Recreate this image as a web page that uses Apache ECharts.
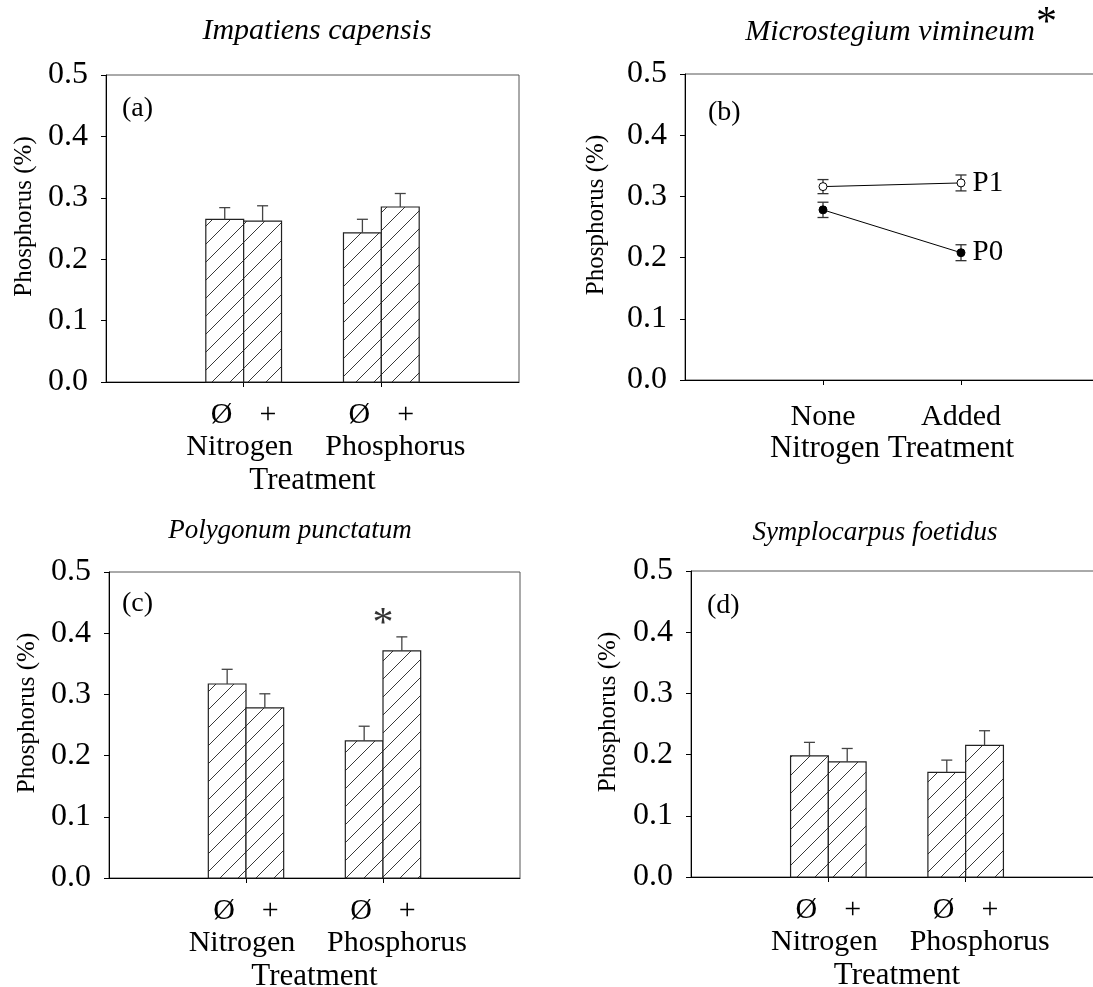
<!DOCTYPE html>
<html>
<head>
<meta charset="utf-8">
<script src="https://cdn.jsdelivr.net/npm/echarts@6/dist/echarts.min.js"></script>
<style>
  html, body { margin: 0; padding: 0; background: #fff; }
  #chart { width: 1093px; height: 987px; }
</style>
</head>
<body>
<div id="chart"></div>
<script>
// Treatment groups and the two levels within each group
const groups = ['Nitrogen', 'Phosphorus'];
const levels = ['Ø', '+'];
const nitrogenLevels = ['None', 'Added'];
const yTicks = [0, 0.1, 0.2, 0.3, 0.4, 0.5];

// Leaf phosphorus (%) : means and standard errors, order N-Ø, N+, P-Ø, P+
const impatiensMean = [0.265, 0.262, 0.243, 0.285];
const impatiensSE = [0.019, 0.025, 0.022, 0.022];
const polygonumMean = [0.317, 0.278, 0.224, 0.371];
const polygonumSE = [0.024, 0.023, 0.024, 0.023];
const symplocarpusMean = [0.198, 0.188, 0.171, 0.215];
const symplocarpusSE = [0.022, 0.022, 0.020, 0.024];

// Microstegium: nitrogen None / Added, without (P0) and with (P1) phosphorus
const microP0Mean = [0.278, 0.208];
const microP0SE = [0.0125, 0.013];
const microP1Mean = [0.316, 0.322];
const microP1SE = [0.0115, 0.013];

const FONT = "'Liberation Serif', 'Times New Roman', serif";
const BAR_W = 0.275;   // bar width as a fraction of the category spacing
const CAP = 5.5;       // half width of error caps, px

// diagonal hatch pattern used for the bars
function makeHatch() {
  const s = 18;
  const c = document.createElement('canvas');
  c.width = s; c.height = s;
  const g = c.getContext('2d');
  g.fillStyle = '#fff';
  g.fillRect(0, 0, s, s);
  g.strokeStyle = '#222';
  g.lineWidth = 0.9;
  g.beginPath();
  g.moveTo(-2, s + 2); g.lineTo(s + 2, -2);
  g.moveTo(-2, 2); g.lineTo(2, -2);
  g.moveTo(s - 2, s + 2); g.lineTo(s + 2, s - 2);
  g.stroke();
  return c;
}
const hatch = { image: makeHatch(), repeat: 'repeat' };

// [category index, side (-1 left / +1 right), mean, se]
function barData(means, ses) {
  return means.map((m, i) => [Math.floor(i / 2) + 1, i % 2 ? 1 : -1, m, ses[i]]);
}

function renderBar(params, api) {
  const g = api.value(0), side = api.value(1), v = api.value(2), e = api.value(3);
  const topPt = api.coord([g, v]);
  const basePt = api.coord([g, 0]);
  const errPt = api.coord([g, v + e]);
  const w = BAR_W * api.size([1, 0])[0];
  const x0 = side < 0 ? topPt[0] - w : topPt[0];
  const cx = x0 + w / 2;
  const st = { stroke: '#444', lineWidth: 1.3 };
  return {
    type: 'group',
    children: [
      { type: 'rect', shape: { x: x0, y: topPt[1], width: w, height: basePt[1] - topPt[1] },
        style: { fill: hatch, stroke: '#222', lineWidth: 1.2 } },
      { type: 'line', shape: { x1: cx, y1: topPt[1], x2: cx, y2: errPt[1] }, style: st },
      { type: 'line', shape: { x1: cx - CAP, y1: errPt[1], x2: cx + CAP, y2: errPt[1] }, style: st }
    ]
  };
}

function renderErr(params, api) {
  const x = api.value(0), v = api.value(1), e = api.value(2);
  const lo = api.coord([x, v - e]);
  const hi = api.coord([x, v + e]);
  const st = { stroke: '#333', lineWidth: 1.3 };
  return {
    type: 'group',
    children: [
      { type: 'line', shape: { x1: lo[0], y1: lo[1], x2: hi[0], y2: hi[1] }, style: st },
      { type: 'line', shape: { x1: lo[0] - CAP, y1: lo[1], x2: lo[0] + CAP, y2: lo[1] }, style: st },
      { type: 'line', shape: { x1: hi[0] - CAP, y1: hi[1], x2: hi[0] + CAP, y2: hi[1] }, style: st }
    ]
  };
}

const grids = [
  { left: 106, top: 75, width: 413, height: 307 },
  { left: 685, top: 74, width: 414, height: 306 },
  { left: 109, top: 572, width: 411, height: 306 },
  { left: 691, top: 571, width: 412, height: 306 }
];

function yAxis(i, gap) {
  return {
    type: 'value', gridIndex: i, min: yTicks[0], max: yTicks[yTicks.length - 1], interval: 0.1,
    name: 'Phosphorus (%)', nameLocation: 'middle', nameGap: gap,
    nameTextStyle: { fontFamily: FONT, fontSize: 25, color: '#000', padding: [0, 0, 0, 24] },
    axisLine: { show: true, lineStyle: { color: '#000', width: 1 } },
    axisTick: { show: true, inside: false, length: 5, lineStyle: { color: '#000' } },
    axisLabel: { margin: 18, fontFamily: FONT, fontSize: 32, color: '#000',
      formatter: v => v.toFixed(1) },
    splitLine: { show: false }
  };
}

const groupRich = {
  s: { fontFamily: FONT, fontSize: 30, color: '#000', lineHeight: 32 },
  g: { width: 27, lineHeight: 32 },
  n: { fontFamily: FONT, fontSize: 30, color: '#000', lineHeight: 32, padding: [0, 8, 0, 0] },
  p: { fontFamily: FONT, fontSize: 30, color: '#000', lineHeight: 32, padding: [0, 0, 0, 28] }
};

const tickAtGroups = idx => idx === 1 || idx === 2;

function treatmentAxis(i, nameGap) {
  return {
    type: 'category', gridIndex: i, boundaryGap: false,
    data: [''].concat(groups, ['']),
    name: 'Treatment', nameLocation: 'middle', nameGap: nameGap,
    nameTextStyle: { fontFamily: FONT, fontSize: 31, color: '#000' },
    axisLine: { show: true, onZero: false, lineStyle: { color: '#000', width: 1 } },
    axisTick: { show: true, length: 5, interval: tickAtGroups, lineStyle: { color: '#000' } },
    axisLabel: {
      margin: 17, interval: 0, rich: groupRich,
      formatter: (value, idx) => {
        if (!value) return '';
        const row = '{s|' + levels[0] + '}{g|}{s|' + levels[1] + '}';
        return row + '\n{' + (idx === 1 ? 'n' : 'p') + '|' + value + '}';
      }
    },
    splitLine: { show: false }
  };
}

const nitroAxis = {
  type: 'category', gridIndex: 1, boundaryGap: false,
  data: [''].concat(nitrogenLevels, ['']),
  name: 'Nitrogen Treatment', nameLocation: 'middle', nameGap: 52,
  nameTextStyle: { fontFamily: FONT, fontSize: 31, color: '#000' },
  axisLine: { show: true, onZero: false, lineStyle: { color: '#000', width: 1 } },
  axisTick: { show: true, length: 5, interval: tickAtGroups, lineStyle: { color: '#000' } },
  axisLabel: { margin: 22, interval: 0, fontFamily: FONT, fontSize: 30, color: '#000' },
  splitLine: { show: false }
};

function barSeries(i, means, ses) {
  return {
    type: 'custom', xAxisIndex: i, yAxisIndex: i,
    renderItem: renderBar, data: barData(means, ses),
    encode: { x: 0, y: 2 }, silent: true
  };
}

function pointSeries(name, means, filled) {
  return {
    type: 'line', name: name, xAxisIndex: 1, yAxisIndex: 1, z: 5,
    symbol: 'circle', symbolSize: 8, showAllSymbol: true,
    lineStyle: { color: '#000', width: 1 },
    itemStyle: { color: filled ? '#000' : '#fff', borderColor: '#000', borderWidth: 1 },
    data: means.map((m, i) => {
      const item = { value: [i + 1, m] };
      if (i === means.length - 1) {
        item.label = { show: true, position: 'right', distance: 7, formatter: name,
          fontFamily: FONT, fontSize: 29, color: '#000' };
      }
      return item;
    }),
    silent: true, animation: false
  };
}

function errSeries(means, ses) {
  return {
    type: 'custom', xAxisIndex: 1, yAxisIndex: 1, z: 3,
    renderItem: renderErr, data: means.map((m, i) => [i + 1, m, ses[i]]),
    encode: { x: 0, y: 1 }, silent: true
  };
}

const titleStyle = { fontFamily: FONT, fontSize: 30, fontStyle: 'italic', fontWeight: 'normal', color: '#000' };
const lowerTitleStyle = Object.assign({}, titleStyle, { fontSize: 27 });
const tagStyle = { fontFamily: FONT, fontSize: 28, fontWeight: 'normal', color: '#000' };

const option = {
  backgroundColor: '#fff',
  animation: false,
  title: [
    { text: 'Impatiens capensis', left: 312, top: 11, textAlign: 'center', textStyle: titleStyle },
    { text: 'Microstegium vimineum', left: 885, top: 12, textAlign: 'center', textStyle: titleStyle },
    { text: '*', left: 1031, top: -2,
      textStyle: { fontFamily: FONT, fontSize: 42, fontWeight: 'normal', color: '#000' } },
    { text: 'Polygonum punctatum', left: 285, top: 512, textAlign: 'center', textStyle: lowerTitleStyle },
    { text: 'Symplocarpus foetidus', left: 870, top: 514, textAlign: 'center', textStyle: lowerTitleStyle },
    { text: '(a)', left: 117, top: 90, textStyle: tagStyle },
    { text: '(b)', left: 703, top: 94, textStyle: tagStyle },
    { text: '(c)', left: 117, top: 585, textStyle: tagStyle },
    { text: '(d)', left: 702, top: 587, textStyle: tagStyle }
  ],
  grid: grids.map(g => Object.assign({ show: true, borderColor: '#555', borderWidth: 1,
    backgroundColor: 'transparent', containLabel: false, outerBoundsMode: 'none' }, g)),
  xAxis: [treatmentAxis(0, 83), nitroAxis, treatmentAxis(2, 83), treatmentAxis(3, 83)],
  yAxis: [yAxis(0, 69), yAxis(1, 76), yAxis(2, 69), yAxis(3, 70)],
  series: [
    barSeries(0, impatiensMean, impatiensSE),
    barSeries(2, polygonumMean, polygonumSE),
    barSeries(3, symplocarpusMean, symplocarpusSE),
    errSeries(microP1Mean, microP1SE),
    errSeries(microP0Mean, microP0SE),
    pointSeries('P1', microP1Mean, false),
    pointSeries('P0', microP0Mean, true),
    {
      // significance mark above the phosphorus group in panel (c)
      type: 'scatter', xAxisIndex: 2, yAxisIndex: 2, symbolSize: 0, silent: true,
      data: [[2, polygonumMean[3] + polygonumSE[3] + 0.02]],
      label: { show: true, position: 'inside', formatter: '*', fontFamily: FONT, fontSize: 42, color: '#000' }
    }
  ]
};

const chart = echarts.init(document.getElementById('chart'), null, { renderer: 'canvas' });
chart.setOption(option);
</script>
</body>
</html>
